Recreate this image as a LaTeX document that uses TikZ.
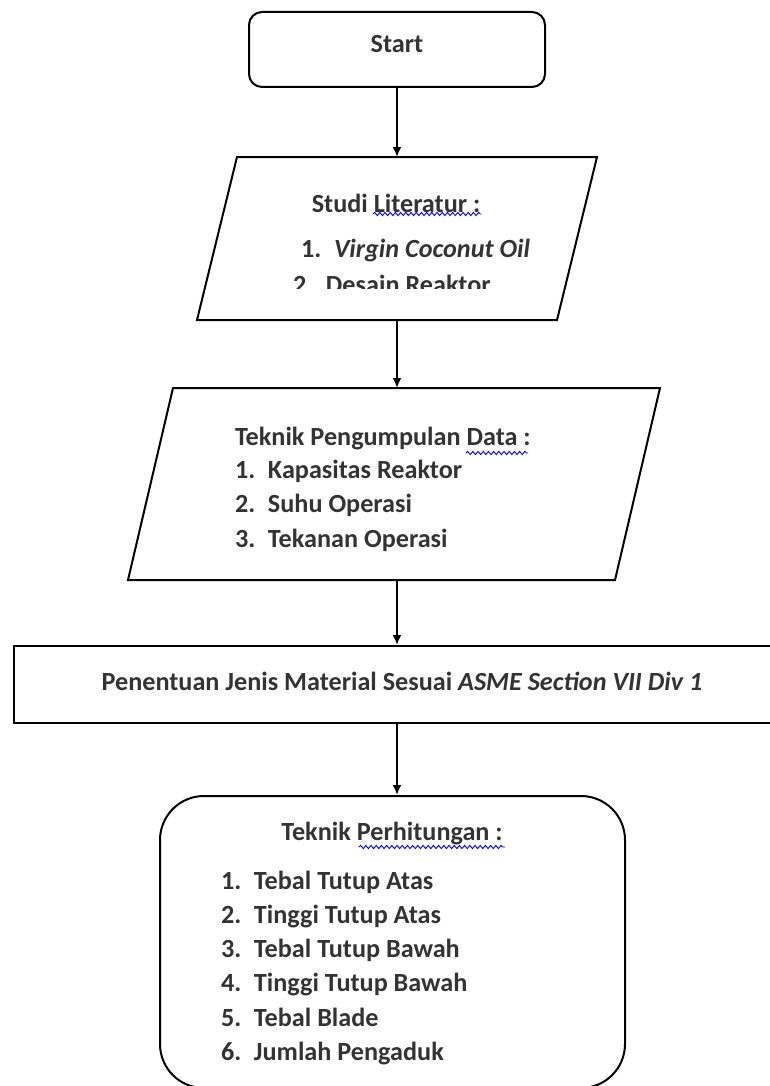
\documentclass[tikz,border=0pt]{standalone}
\usepackage{fontspec}
\setmainfont{Carlito}
\usetikzlibrary{shapes,arrows.meta,positioning,decorations.pathmorphing}

\newcommand\itm[2]{\makebox[16.5pt][l]{#1}#2}

\begin{document}
\begin{tikzpicture}[x=0.5pt, y=-0.5pt, line width=1pt,
  every node/.style={font=\fontsize{13.1}{15.5}\selectfont\bfseries, text=black!80},
  startbox/.style={draw, rounded corners=6.5pt, minimum width=148pt, minimum height=37.5pt},
  matbox/.style={draw, minimum width=379pt, minimum height=38.5pt},
  calcbox/.style={draw, rounded corners=22pt, minimum width=232.5pt, minimum height=146pt},
  item/.style={anchor=west, inner sep=0pt, text height=0.7em, text depth=0.2em},
  spellwave/.style={blue, line width=0.45pt, decorate,
    decoration={snake, amplitude=0.8pt, segment length=2.6pt}},
  flow/.style={-{Latex[length=5pt,width=4.5pt]}}]
        \useasboundingbox (0,0) rectangle (770,1086);
        % boxes
        \node[startbox] (start) at (397,49.5) {};
        \draw (237,157) -- (597,157) -- (557,320) -- (197,320) -- cycle;
        \draw (173,388) -- (660,388) -- (615,580) -- (128,580) -- cycle;
        \node[matbox] (mat) at (393,684.5) {};
        \node[calcbox] (calc) at (392.5,942) {};
        \coordinate (lit-n) at (397,157);
        \coordinate (lit-s) at (397,320);
        \coordinate (data-n) at (397,388);
        \coordinate (data-s) at (397,580);
        % texts
        \node (start-txt) at (397,44) {Start};
        \node (lit-head) at (396,203) {Studi Literatur :};
        \node[item] (lit-1) at (300,252) {\itm{1.}{\textit{Virgin Coconut Oil}}};
        \begin{scope}
          \clip (180,265) rectangle (600,288);
          \node[item] (lit-2) at (292,288) {\itm{2.}{Desain Reaktor}};
        \end{scope}
        \node[item] (data-head) at (234,440) {Teknik Pengumpulan Data :};
        \foreach \txt [count=\i] in {Kapasitas Reaktor, Suhu Operasi, Tekanan Operasi}
          \node[item] (data-\i) at (234,{473+34.5*(\i-1)}) {\itm{\i.}{\txt}};
        \node (mat-txt) at (402,681) {Penentuan Jenis Material Sesuai \textit{ASME Section VII Div 1}};
        \node (calc-head) at (392,834) {Teknik Perhitungan :};
        \foreach \txt [count=\i] in {Tebal Tutup Atas, Tinggi Tutup Atas, Tebal Tutup Bawah,
                                     Tinggi Tutup Bawah, Tebal Blade, Jumlah Pengaduk}
          \node[item] (calc-\i) at (220,{884+34.3*(\i-1)}) {\itm{\i.}{\txt}};
        % spelling marks
        \draw[spellwave] (373,214) -- (481,214);
        \draw[spellwave] (466,453) -- (528,453);
        \draw[spellwave] (359,847) -- (505,847);
        % arrows
        \draw[flow] (start.south -| lit-n) -- (lit-n);
        \draw[flow] (lit-s) -- (data-n);
        \draw[flow] (data-s) -- (data-s |- mat.north);
        \draw[flow] (mat.south -| data-s) -- (calc.north -| data-s);
      \end{tikzpicture}
\end{document}
